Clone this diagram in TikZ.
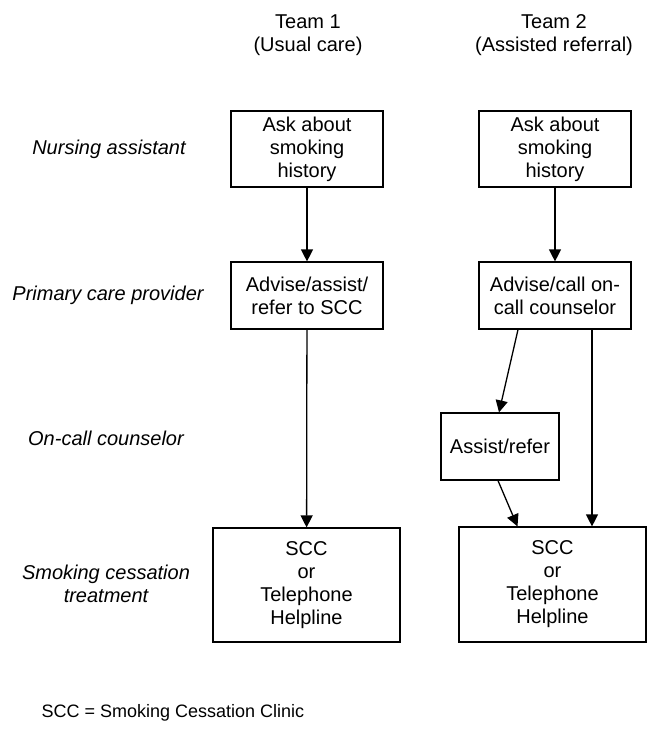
\documentclass[tikz,border=0pt]{standalone}
\usepackage{fontspec}
\setmainfont{Liberation Sans}
\usetikzlibrary{arrows.meta,positioning,calc}

\begin{document}
\begin{tikzpicture}[
    x=1pt,y=-1pt,
    box/.style={draw,line width=1.2pt,inner sep=0pt,align=center,font=\fontsize{20}{23}\selectfont},
    head/.style={align=center,font=\fontsize{20}{23}\selectfont},
    role/.style={align=center,font=\fontsize{20}{23}\selectfont\itshape},
    flow/.style={-{Triangle[width=12pt,length=12pt]},line width=1.3pt}
]
\useasboundingbox (0,0) rectangle (647,732);

% team headings
\node[head] (team1) at (308,35) {Team 1\\(Usual care)};
\node[head] (team2) at (554,35) {Team 2\\(Assisted referral)};

% roles
\node[role] (nurse) at (109,149) {Nursing assistant};
\node[role] (pcp) at (108,295) {Primary care provider};
\node[role] (counsel) at (106,438) {On-call counselor};
\node[role] (treat) at (106,584) {Smoking cessation\\treatment};

% team 1
\node[box,minimum width=152pt,minimum height=76pt] (ask1) at (307,149) {Ask about\\smoking\\history};
\node[box,minimum width=152pt,minimum height=67pt] (adv1) at (307,295.5) {Advise/assist/\\refer to SCC};
\node[box,minimum width=187pt,minimum height=114pt] (scc1) at (306.5,585) {SCC\\or\\Telephone\\Helpline};

% team 2
\node[box,minimum width=152pt,minimum height=76pt] (ask2) at (555,149) {Ask about\\smoking\\history};
\node[box,minimum width=152pt,minimum height=67pt] (adv2) at (555,295.5) {Advise/call on-\\call counselor};
\node[box,minimum width=118pt,minimum height=67pt] (assist) at (500,446.5) {Assist/refer};
\node[box,minimum width=187pt,minimum height=115pt] (scc2) at (552.5,584.5) {SCC\\or\\Telephone\\Helpline};

\draw[flow] (ask1) -- (adv1);
\draw[flow] (adv1) -- (scc1);
\draw[flow] (ask2) -- (adv2);
\draw[flow] ([xshift=-37pt]adv2.south) -- ([xshift=-1pt]assist.north);
\draw[flow] ([xshift=37pt]adv2.south) -- ([xshift=37pt]adv2.south |- scc2.north);
\draw[flow] ([xshift=-2pt]assist.south) -- ([xshift=-35pt]scc2.north);

\node[anchor=west,font=\fontsize{18}{21}\selectfont] (key) at (38,713) {SCC = Smoking Cessation Clinic};
\end{tikzpicture}
\end{document}
